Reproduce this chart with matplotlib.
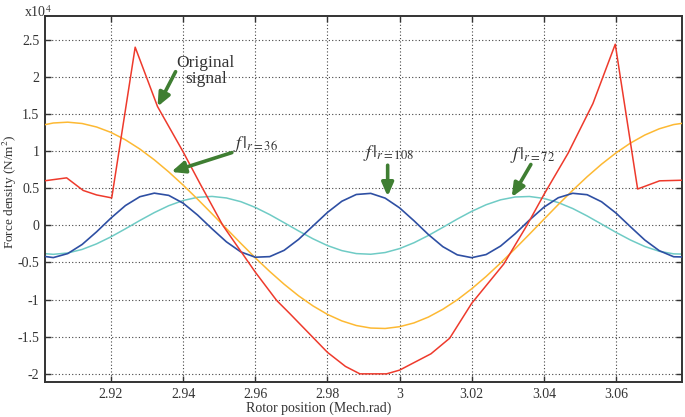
import matplotlib
matplotlib.use("Agg")
import matplotlib.pyplot as plt
import numpy as np

# --- values (force density in units of 1e4 N/m^2) ---
x_orig = [2.9000, 2.9077, 2.9123, 2.9160, 2.9202, 2.9267, 2.9329, 2.9400, 2.9447,
          2.9510, 2.9600, 2.9659, 2.9696, 2.9800, 2.9850, 2.9890, 2.9964, 3.0000,
          3.0087, 3.0139, 3.0200, 3.0289, 3.0353, 3.0402, 3.0467, 3.0536, 3.0598,
          3.0660, 3.0721, 3.0800]
y_orig = [0.59, 0.64, 0.47, 0.41, 0.37, 2.40, 1.60, 0.99, 0.56,
          0.00, -0.63, -1.01, -1.19, -1.71, -1.90, -2.00, -2.00, -1.95,
          -1.73, -1.52, -1.05, -0.52, 0.00, 0.43, 0.97, 1.64, 2.44,
          0.49, 0.60, 0.61]

# harmonics sampled every 0.004 rad from 2.900 to 3.080
x_harm = np.round(np.arange(46) * 0.004 + 2.900, 4)
y_r36 = [1.340, 1.379, 1.390, 1.372, 1.325, 1.252, 1.152, 1.028, 0.883, 0.720,
         0.542, 0.353, 0.156, -0.044, -0.243, -0.437, -0.621, -0.793, -0.949, -1.085,
         -1.199, -1.287, -1.349, -1.383, -1.389, -1.365, -1.314, -1.235, -1.130, -1.003,
         -0.854, -0.688, -0.507, -0.316, -0.119, 0.081, 0.280, 0.472, 0.655, 0.824,
         0.976, 1.108, 1.217, 1.301, 1.358, 1.386]
y_r108 = [-0.408, -0.434, -0.380, -0.257, -0.087, 0.099, 0.267, 0.386, 0.434, 0.404,
          0.299, 0.139, -0.046, -0.222, -0.358, -0.429, -0.421, -0.336, -0.189, -0.008,
          0.174, 0.325, 0.416, 0.431, 0.367, 0.236, 0.062, -0.124, -0.287, -0.397,
          -0.435, -0.393, -0.279, -0.115, 0.071, 0.244, 0.372, 0.432, 0.413, 0.318,
          0.166, -0.018, -0.198, -0.341, -0.423, -0.427]
y_r72 = [-0.375, -0.390, -0.372, -0.324, -0.249, -0.154, -0.046, 0.066, 0.172, 0.265,
         0.335, 0.378, 0.390, 0.369, 0.319, 0.242, 0.145, 0.036, -0.075, -0.181,
         -0.272, -0.340, -0.380, -0.389, -0.366, -0.313, -0.234, -0.136, -0.027, 0.085,
         0.189, 0.278, 0.344, 0.382, 0.389, 0.363, 0.307, 0.227, 0.127, 0.017,
         -0.094, -0.197, -0.285, -0.349, -0.384, -0.388]

x_ticks = [2.92, 2.94, 2.96, 2.98, 3.00, 3.02, 3.04, 3.06]
x_tick_labels = ["2.92", "2.94", "2.96", "2.98", "3", "3.02", "3.04", "3.06"]
y_ticks = [-2, -1.5, -1, -0.5, 0, 0.5, 1, 1.5, 2, 2.5]
y_tick_labels = ["-2", "-1.5", "-1", "-0.5", "0", "0.5", "1", "1.5", "2", "2.5"]

COLORS = {
    "orig": "#EE3A2C",
    "r36": "#FDB933",
    "r108": "#2E4FA3",
    "r72": "#6FCBC5",
    "arrow": "#3F7E32",
}
TEXT = "#333333"

plt.rcParams.update({
    "font.family": "Liberation Serif",
    "mathtext.fontset": "stix",
    "font.size": 10,
    "axes.edgecolor": TEXT,
    "xtick.direction": "in",
    "ytick.direction": "in",
})

fig = plt.figure(figsize=(6.85, 4.17), dpi=100)
ax = fig.add_axes([0.0657, 0.0839, 0.9299, 0.8777])

ax.plot(x_orig, y_orig, color=COLORS["orig"], lw=1.1, zorder=4)
ax.plot(x_harm, y_r36, color=COLORS["r36"], lw=1.1, zorder=3)
ax.plot(x_harm, y_r72, color=COLORS["r72"], lw=1.1, zorder=2)
ax.plot(x_harm, y_r108, color=COLORS["r108"], lw=1.2, zorder=3)

ax.set_xlim(2.9017, 3.0783)
ax.set_ylim(-2.11, 2.82)
ax.set_xticks(x_ticks)
ax.set_xticklabels(x_tick_labels)
ax.set_yticks(y_ticks)
ax.set_yticklabels(y_tick_labels)
ax.tick_params(top=True, right=True, length=4, width=1.0, colors=TEXT,
               labelcolor=TEXT, pad=4)
for sp in ax.spines.values():
    sp.set_linewidth(1.4)
ax.grid(True, color="#444444", linestyle=(0, (1, 2)), linewidth=0.8)

ax.set_xlabel("Rotor position (Mech.rad)", color=TEXT)
ax.xaxis.set_label_coords(0.43, -0.052)
ax.set_ylabel("Force density (N/m$^2$)", color=TEXT, fontsize=9.5)
ax.yaxis.set_label_coords(-0.041, 0.52)
fig.text(24 / 685, 1 - 17 / 417, "x10$^4$", color=TEXT, fontsize=10,
         va="baseline")

arrow_kw = dict(arrowstyle="-|>,head_length=0.8,head_width=0.35",
                color=COLORS["arrow"], lw=2.6, shrinkA=0, shrinkB=0)

ax.annotate("", xy=(2.9329, 1.60), xytext=(2.9379, 2.07), arrowprops=arrow_kw, zorder=6)
ax.text(2.9463, 2.08, "Original\nsignal", ha="center", va="center", fontsize=12.5,
        color=TEXT, linespacing=0.95)

ax.annotate("", xy=(2.9367, 0.72), xytext=(2.9535, 0.98), arrowprops=arrow_kw, zorder=6)
ax.text(2.9537, 1.10, r"$f\,|_{\mathit{r=36}}$", fontsize=13, color=TEXT,
        ha="left", va="center")

ax.annotate("", xy=(2.9967, 0.39), xytext=(2.9967, 0.81), arrowprops=arrow_kw, zorder=6)
ax.text(2.9900, 0.97, r"$f\,|_{\mathit{r=108}}$", fontsize=13, color=TEXT,
        ha="left", va="center")

ax.annotate("", xy=(3.0311, 0.38), xytext=(3.0364, 0.82), arrowprops=arrow_kw, zorder=6)
ax.text(3.0306, 0.95, r"$f\,|_{\mathit{r=72}}$", fontsize=13, color=TEXT,
        ha="left", va="center")

fig.savefig("out.png", dpi=100)
plt.close(fig)
